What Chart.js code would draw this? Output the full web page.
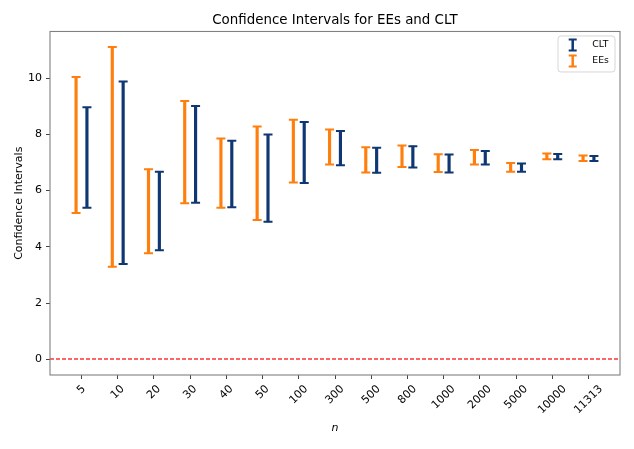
<!DOCTYPE html>
<html><head><meta charset="utf-8">
<script src="https://cdn.jsdelivr.net/npm/chart.js@4/dist/chart.umd.min.js"></script>
<style>html,body{margin:0;padding:0;background:#fff;}canvas{display:block;}</style>
</head><body>
<canvas id="c" width="634" height="449"></canvas>
<script>
// ---- data ----
const categories = ['5','10','20','30','40','50','100','300','500','800','1000','2000','5000','10000','11313'];
const eesLow  = [5.20, 3.29, 3.77, 5.55, 5.39, 4.95, 6.29, 6.93, 6.64, 6.84, 6.66, 6.93, 6.67, 7.11, 7.05];
const eesHigh = [10.04,11.10, 6.76, 9.18, 7.85, 8.28, 8.52, 8.17, 7.54, 7.60, 7.29, 7.44, 6.98, 7.32, 7.25];
const cltLow  = [5.39, 3.39, 3.88, 5.57, 5.41, 4.89, 6.27, 6.90, 6.63, 6.82, 6.64, 6.93, 6.67, 7.11, 7.05];
const cltHigh = [8.96, 9.88, 6.67, 9.01, 7.77, 7.99, 8.44, 8.12, 7.52, 7.58, 7.28, 7.41, 6.96, 7.30, 7.23];
const yTickValues = [0, 2, 4, 6, 8, 10];
const refLineValue = 0;

// ---- styles ----
const FONT = "'DejaVu Sans', sans-serif";
const ORANGE = '#ff7f0e';
const BLUE = '#0f3773';
const RED = 'rgb(255,0,0)';
const OFF = 0.15;

function barData(lo, hi, dx) { return categories.map((c, i) => ({ x: i + dx, y: [lo[i], hi[i]] })); }
function capData(lo, hi, dx) { return categories.flatMap((c, i) => [{ x: i + dx, y: lo[i] }, { x: i + dx, y: hi[i] }]); }

function barDs(label, lo, hi, dx, color) {
  return { type: 'bar', label, data: barData(lo, hi, dx), backgroundColor: color, barThickness: 2.5,
           grouped: false, borderWidth: 0, borderSkipped: false };
}
function capDs(label, lo, hi, dx, color) {
  return { type: 'scatter', label: label + ' caps', data: capData(lo, hi, dx), pointStyle: 'line',
           pointRadius: 4.5, pointHoverRadius: 4.5, pointBorderWidth: 2, pointBorderColor: color,
           pointBackgroundColor: color, showLine: false };
}

const datasets = [
  barDs('CLT', cltLow, cltHigh, OFF, BLUE),
  capDs('CLT', cltLow, cltHigh, OFF, BLUE),
  barDs('EEs', eesLow, eesHigh, -OFF, ORANGE),
  capDs('EEs', eesLow, eesHigh, -OFF, ORANGE)
];

const refLinePlugin = {
  id: 'refLine',
  afterDatasetsDraw(chart) {
    const { ctx, chartArea: a, scales: { y } } = chart;
    const py = Math.round(y.getPixelForValue(refLineValue));
    ctx.save();
    ctx.globalAlpha = 1;
    ctx.globalCompositeOperation = 'source-over';
    ctx.fillStyle = RED;
    // dashed horizontal reference line, dash 4 / gap 2
    for (let x = a.left; x < a.right; x += 6) {
      ctx.fillRect(x, py - 0.6, Math.min(4, a.right - x), 1.2);
    }
    ctx.restore();
  }
};

const framePlugin = {
  id: 'frame',
  afterDraw(chart) {
    const { ctx, chartArea: a } = chart;
    ctx.save();
    ctx.strokeStyle = '#808080'; ctx.lineWidth = 1.1;
    ctx.strokeRect(a.left, a.top, a.right - a.left, a.bottom - a.top);
    ctx.restore();
  }
};

const xTickLabelPlugin = {
  id: 'xTickLabels',
  afterDraw(chart) {
    const { ctx, chartArea: a, scales: { x } } = chart;
    const size = 11;
    ctx.save();
    ctx.font = size + 'px ' + FONT; ctx.fillStyle = '#000';
    ctx.textAlign = 'center'; ctx.textBaseline = 'middle';
    const top = a.bottom + 7.8;
    categories.forEach((lab, i) => {
      const w = ctx.measureText(lab).width, h = size * 1.16;
      const half = (w + h) * Math.SQRT1_2 / 2;
      const cx = x.getPixelForValue(i), cy = top + half;
      ctx.save(); ctx.translate(cx, cy); ctx.rotate(-Math.PI / 4); ctx.fillText(lab, 0, 0); ctx.restore();
    });
    ctx.restore();
  }
};

const legendPlugin = {
  id: 'errLegend',
  afterDraw(chart) {
    const { ctx, chartArea: a } = chart;
    const entries = chart.data.datasets.filter(d => d.type === 'bar').map(d => ({ label: d.label, color: d.backgroundColor }));
    const bw = 57, bh = 36;
    const x0 = a.right - 5 - bw, y0 = a.top + 4.5;
    ctx.save();
    ctx.beginPath();
    if (ctx.roundRect) ctx.roundRect(x0, y0, bw, bh, 3); else ctx.rect(x0, y0, bw, bh);
    ctx.fillStyle = 'rgba(255,255,255,0.8)'; ctx.fill();
    ctx.strokeStyle = '#d6d6d6'; ctx.lineWidth = 1; ctx.stroke();
    ctx.font = '9.3px ' + FONT; ctx.textAlign = 'left'; ctx.textBaseline = 'middle';
    entries.forEach((e, k) => {
      const cy = y0 + 9 + k * 16, cx = x0 + 14.7;
      ctx.fillStyle = e.color;
      ctx.fillRect(cx - 1.25, cy - 5.5, 2.5, 11);
      ctx.strokeStyle = e.color; ctx.lineWidth = 2;
      ctx.beginPath(); ctx.moveTo(cx - 4, cy - 5.5); ctx.lineTo(cx + 4, cy - 5.5);
      ctx.moveTo(cx - 4, cy + 5.5); ctx.lineTo(cx + 4, cy + 5.5); ctx.stroke();
      ctx.fillStyle = '#000';
      ctx.fillText(e.label, x0 + 34.3, cy);
    });
    ctx.restore();
  }
};

new Chart(document.getElementById('c'), {
  data: { datasets },
  options: {
    responsive: false, animation: false, devicePixelRatio: 1, events: [],
    layout: { padding: { left: 0, right: 14, top: 0, bottom: 0 } },
    plugins: {
      legend: { display: false }, tooltip: { enabled: false },
      title: { display: true, text: 'Confidence Intervals for EEs and CLT', fullSize: false,
               font: { family: FONT, size: 13.4, weight: 'normal' }, color: '#000',
               padding: { top: 12, bottom: 3.4 } }
    },
    scales: {
      x: {
        type: 'linear', min: -0.87, max: 14.87, offset: false,
        afterBuildTicks: s => { s.ticks = categories.map((c, i) => ({ value: i })); },
        ticks: { display: false },
        grid: { offset: false, drawOnChartArea: false, drawTicks: true, tickLength: 4, tickColor: '#444', tickWidth: 1 },
        border: { display: false },
        title: { display: true, text: 'n', color: '#000', font: { family: FONT, size: 11, style: 'italic' },
                 padding: { top: 0, bottom: 14.4 } },
        afterFit: s => { s.height = 74; }
      },
      y: {
        type: 'linear', min: -0.555, max: 11.655,
        afterBuildTicks: s => { s.ticks = yTickValues.map(v => ({ value: v })); },
        ticks: { font: { family: FONT, size: 11 }, color: '#000', padding: 4, callback: v => String(v) },
        grid: { drawOnChartArea: false, drawTicks: true, tickLength: 4, tickColor: '#444', tickWidth: 1 },
        border: { display: false },
        title: { display: true, text: 'Confidence Intervals', color: '#000', font: { family: FONT, size: 11 },
                 padding: { top: 13, bottom: 0 } },
        afterFit: s => { s.width = 50; }
      }
    }
  },
  plugins: [refLinePlugin, framePlugin, xTickLabelPlugin, legendPlugin]
});
</script>
</body></html>
